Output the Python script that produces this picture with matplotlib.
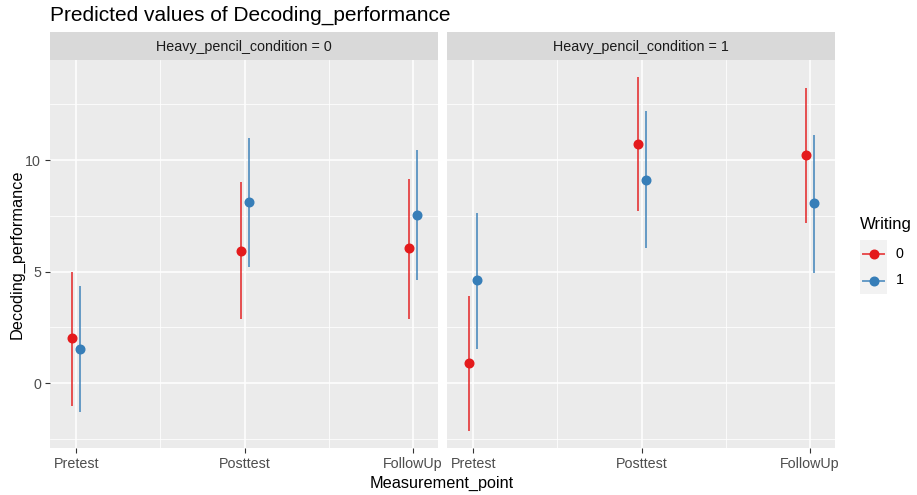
"""
Predicted values of Decoding_performance, faceted by heavy pencil condition.
"""

import matplotlib
matplotlib.use('Agg')
import matplotlib.pyplot as plt
from matplotlib.lines import Line2D

plt.rcParams['font.family'] = ['Liberation Sans', 'DejaVu Sans']

# Data
points = ["Pretest", "Posttest", "FollowUp"]
writing_levels = ["0", "1"]
facets = ["Heavy_pencil_condition = 0", "Heavy_pencil_condition = 1"]

# predicted values [facet][writing][measurement point]
pred = [
    [[2.01, 5.94, 6.05], [1.54, 8.12, 7.55]],
    [[0.90, 10.73, 10.22], [4.63, 9.12, 8.08]],
]
ci_low = [
    [[-1.02, 2.90, 2.90], [-1.30, 5.21, 4.63]],
    [[-2.12, 7.72, 7.19], [1.54, 6.05, 4.95]],
]
ci_high = [
    [[4.97, 9.00, 9.15], [4.36, 10.98, 10.45]],
    [[3.92, 13.70, 13.24], [7.64, 12.20, 11.13]],
]

colors = ["#E41A1C", "#377EB8"]
dodge = [-0.024, 0.024]

W, H = 917, 495
fig = plt.figure(figsize=(W / 100, H / 100), dpi=100)


def box(x0, y0, x1, y1):
    # pixel box (top-left origin) -> figure fraction rect
    return [x0 / W, 1 - y1 / H, (x1 - x0) / W, (y1 - y0) / H]


panel_x = [(50, 438), (447, 835)]
panel_top, panel_bottom, strip_top = 60, 448, 32

for f, (px0, px1) in enumerate(panel_x):
    ax = fig.add_axes(box(px0, panel_top, px1, panel_bottom))
    ax.set_facecolor("#EBEBEB")
    for s in ax.spines.values():
        s.set_visible(False)

    # grid
    for y in [-2.5, 2.5, 7.5, 12.5]:
        ax.axhline(y, color="white", lw=0.55, zorder=0)
    for y in [0, 5, 10]:
        ax.axhline(y, color="white", lw=1.1, zorder=0)
    for x in [1.5, 2.5]:
        ax.axvline(x, color="white", lw=0.55, zorder=0)
    for x in [1, 2, 3]:
        ax.axvline(x, color="white", lw=1.1, zorder=0)

    for w in range(2):
        xs = [i + 1 + dodge[w] for i in range(len(points))]
        ax.vlines(xs, ci_low[f][w], ci_high[f][w], color=colors[w],
                  lw=1.4, alpha=0.75, zorder=2)
        ax.plot(xs, pred[f][w], 'o', color=colors[w], ms=6.2, zorder=3)

    ax.set_xlim(0.843, 3.15)
    ax.set_ylim(-2.9, 14.48)
    ax.set_xticks([1, 2, 3])
    ax.set_xticklabels(points)
    ax.set_yticks([0, 5, 10])
    ax.tick_params(length=3.5, width=0.8, color="#333333", labelsize=10.3,
                   labelcolor="#4D4D4D", pad=3)
    if f == 1:
        ax.tick_params(axis='y', left=False, labelleft=False)

    # facet strip
    sax = fig.add_axes(box(px0, strip_top, px1, panel_top))
    sax.set_facecolor("#D9D9D9")
    sax.set_xticks([])
    sax.set_yticks([])
    for s in sax.spines.values():
        s.set_visible(False)
    sax.text(0.5, 0.47, facets[f], ha='center', va='center', fontsize=10.3,
             color="#1A1A1A", transform=sax.transAxes)

fig.text(50 / W, 1 - 15 / H, "Predicted values of Decoding_performance",
         ha='left', va='center', fontsize=15, color="black")
fig.text(442 / W, 1 - 483 / H, "Measurement_point", ha='center', va='center',
         fontsize=11.7, color="black")
fig.text(17 / W, 1 - 254 / H, "Decoding_performance", ha='center', va='center',
         rotation=90, fontsize=11.7, color="black")

# legend
fig.text(860 / W, 1 - 225 / H, "Writing", ha='left', va='center',
         fontsize=12, color="black")
lax = fig.add_axes(box(860, 240, 887, 294))
lax.set_facecolor("#F2F2F2")
lax.set_xlim(0, 1)
lax.set_ylim(2, 0)
lax.set_xticks([])
lax.set_yticks([])
for s in lax.spines.values():
    s.set_visible(False)
for w, lev in enumerate(writing_levels):
    lax.add_line(Line2D([0.1, 0.9], [w + 0.5, w + 0.5], color=colors[w],
                        lw=1.4, alpha=0.75))
    lax.plot([0.5], [w + 0.5], 'o', color=colors[w], ms=6.2)
    fig.text(896 / W, 1 - (253.5 + 27 * w) / H, lev, ha='left', va='center',
             fontsize=10.3, color="black")

fig.savefig("out.png", dpi=100, facecolor="white")
